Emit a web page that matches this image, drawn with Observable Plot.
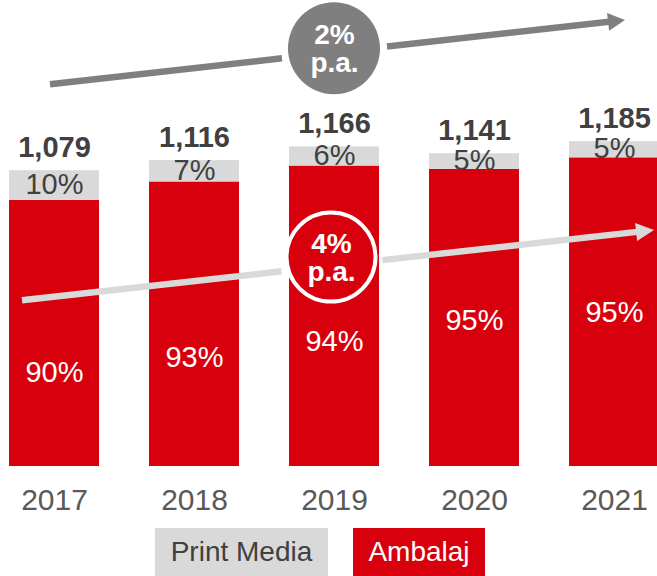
<!DOCTYPE html>
<html>
<head>
<meta charset="utf-8">
<script src="https://cdn.jsdelivr.net/npm/d3@7"></script>
<script src="https://cdn.jsdelivr.net/npm/@observablehq/plot@0.6"></script>
<style>
  html, body { margin: 0; padding: 0; background: #fff; overflow: hidden; }
  body { width: 657px; font-family: "Liberation Sans", Arial, sans-serif; }
  #legend { position: relative; height: 48px; }
  .lg { position: absolute; top: 0; height: 48px; display: flex; align-items: center; justify-content: center; font-size: 28px; }
</style>
</head>
<body>
<div id="chart"></div>
<div id="legend"></div>
<script>
// ---- data ----
const years = ["2017", "2018", "2019", "2020", "2021"];
const ambalaj = [971, 1038, 1096, 1084, 1126];
const printMedia = [108, 78, 70, 57, 59];
const totals = [1079, 1116, 1166, 1141, 1185];
const printPctLabels = ["10%", "7%", "6%", "5%", "5%"];
const ambalajPctLabels = ["90%", "93%", "94%", "95%", "95%"];
const seriesNames = ["Print Media", "Ambalaj"];
const cagrLabels = ["4%\np.a.", "2%\np.a."];

// ---- styles ----
const RED = "#d9000d";
const LIGHT = "#d9d9d9";
const DARK = "#7f7f7f";
const TEXT = "#404040";

const rows = years.map((year, i) => ({
  year,
  amb: ambalaj[i],
  print: printMedia[i],
  total: ambalaj[i] + printMedia[i],
  totalLabel: d3.format(",")(totals[i]),
  printPct: printPctLabels[i],
  ambPct: ambalajPctLabels[i]
}));

// vertical placement of white labels inside the red segments (data units)
const ambLabelY = [343, 398, 456, 532, 562];

// annotation layout: arrows and circles, anchored to bands + y values
const annotations = [
  {
    color: LIGHT, width: 6.5, headLen: 18, headW: 18,
    from: {year: "2017", dx: -32, y: 605}, to: {year: "2021", dx: 40, y: 861},
    circle: {year: "2019", dx: -3, y: 762, r: 44.5, fill: RED, stroke: "#fff", strokeWidth: 4, gap: 51.5}
  },
  {
    color: DARK, width: 6.5, headLen: 17, headW: 18,
    from: {year: "2017", dx: -4, y: 1393}, to: {year: "2021", dx: 11, y: 1627},
    circle: {year: "2019", dx: 0, y: 1524, r: 46, fill: DARK, stroke: "none", strokeWidth: 0, gap: 53}
  }
];

function annotationMark(a) {
  return (index, scales) => {
    const {x, y} = scales;
    const bw = x.bandwidth ? x.bandwidth() : 0;
    const px = (p) => [x(p.year) + bw / 2 + p.dx, y(p.y)];
    const P = px(a.from), T = px(a.to);
    const C = px(a.circle);
    const len = Math.hypot(T[0] - P[0], T[1] - P[1]);
    const u = [(T[0] - P[0]) / len, (T[1] - P[1]) / len];
    const n = [-u[1], u[0]];
    const shaftLen = len - a.headLen + 1;
    const at = (t) => [P[0] + u[0] * t, P[1] + u[1] * t];
    const cp = [C[0] - P[0], C[1] - P[1]];
    const proj = cp[0] * u[0] + cp[1] * u[1];
    const d2 = cp[0] * cp[0] + cp[1] * cp[1] - proj * proj;
    let segs = [[0, shaftLen]];
    if (d2 < a.circle.gap * a.circle.gap) {
      const h = Math.sqrt(a.circle.gap * a.circle.gap - d2);
      segs = [[0, proj - h], [proj + h, shaftLen]];
    }
    const g = d3.create("svg:g");
    for (const [t0, t1] of segs) {
      const A = at(t0), B = at(t1);
      g.append("line").attr("x1", A[0]).attr("y1", A[1]).attr("x2", B[0]).attr("y2", B[1])
        .attr("stroke", a.color).attr("stroke-width", a.width);
    }
    const Bh = at(len - a.headLen);
    const tri = [T, [Bh[0] + n[0] * a.headW / 2, Bh[1] + n[1] * a.headW / 2], [Bh[0] - n[0] * a.headW / 2, Bh[1] - n[1] * a.headW / 2]];
    g.append("path").attr("d", "M" + tri.map(p => p.join(",")).join("L") + "Z").attr("fill", a.color);
    g.append("circle").attr("cx", C[0]).attr("cy", C[1]).attr("r", a.circle.r)
      .attr("fill", a.circle.fill).attr("stroke", a.circle.stroke).attr("stroke-width", a.circle.strokeWidth);
    return g.node();
  };
}

function circleText(i) {
  const c = annotations[i].circle;
  return Plot.text([{year: c.year, y: c.y, label: cagrLabels[i]}], {
    x: "year", y: "y", dx: c.dx, text: "label",
    fill: "#fff", fontSize: 28, fontWeight: "bold", lineHeight: 1.0, lineAnchor: "middle"
  });
}

const plot = Plot.plot({
  width: 657,
  height: 528,
  marginTop: 0,
  marginBottom: 62,
  marginLeft: 9,
  marginRight: 0,
  style: {fontFamily: "Liberation Sans, Arial, sans-serif", background: "#fff"},
  x: {domain: years, range: [9, 660], paddingInner: 0.355, paddingOuter: 0, label: null},
  y: {domain: [0, 1700], axis: null},
  marks: [
    Plot.barY(rows, {x: "year", y1: 0, y2: "amb", fill: RED}),
    Plot.barY(rows, {x: "year", y1: "amb", y2: "total", fill: LIGHT}),
    Plot.axisX({tickSize: 0, tickPadding: 22, fontSize: 30, fill: "#595959", label: null}),
    Plot.text(rows, {x: "year", y: (d) => (d.amb + d.total) / 2, text: "printPct", fill: TEXT, fontSize: 29, lineAnchor: "middle", dy: -1}),
    Plot.text(rows, {x: "year", y: "total", text: "totalLabel", fill: TEXT, fontSize: 29, fontWeight: "bold", lineAnchor: "bottom", dy: -14}),
    Plot.text(rows, {x: "year", y: (d, i) => ambLabelY[i], text: "ambPct", fill: "#fff", fontSize: 29, lineAnchor: "middle"}),
    annotationMark(annotations[0]),
    annotationMark(annotations[1]),
    circleText(0),
    circleText(1)
  ]
});
document.getElementById("chart").appendChild(plot);

// legend
const legendSpec = [
  {name: seriesNames[0], bg: LIGHT, color: TEXT, left: 155, width: 173},
  {name: seriesNames[1], bg: RED, color: "#fff", left: 353, width: 132}
];
const legend = d3.select("#legend");
for (const s of legendSpec) {
  legend.append("div").attr("class", "lg")
    .style("left", s.left + "px").style("width", s.width + "px")
    .style("background", s.bg).style("color", s.color)
    .text(s.name);
}
</script>
</body>
</html>
